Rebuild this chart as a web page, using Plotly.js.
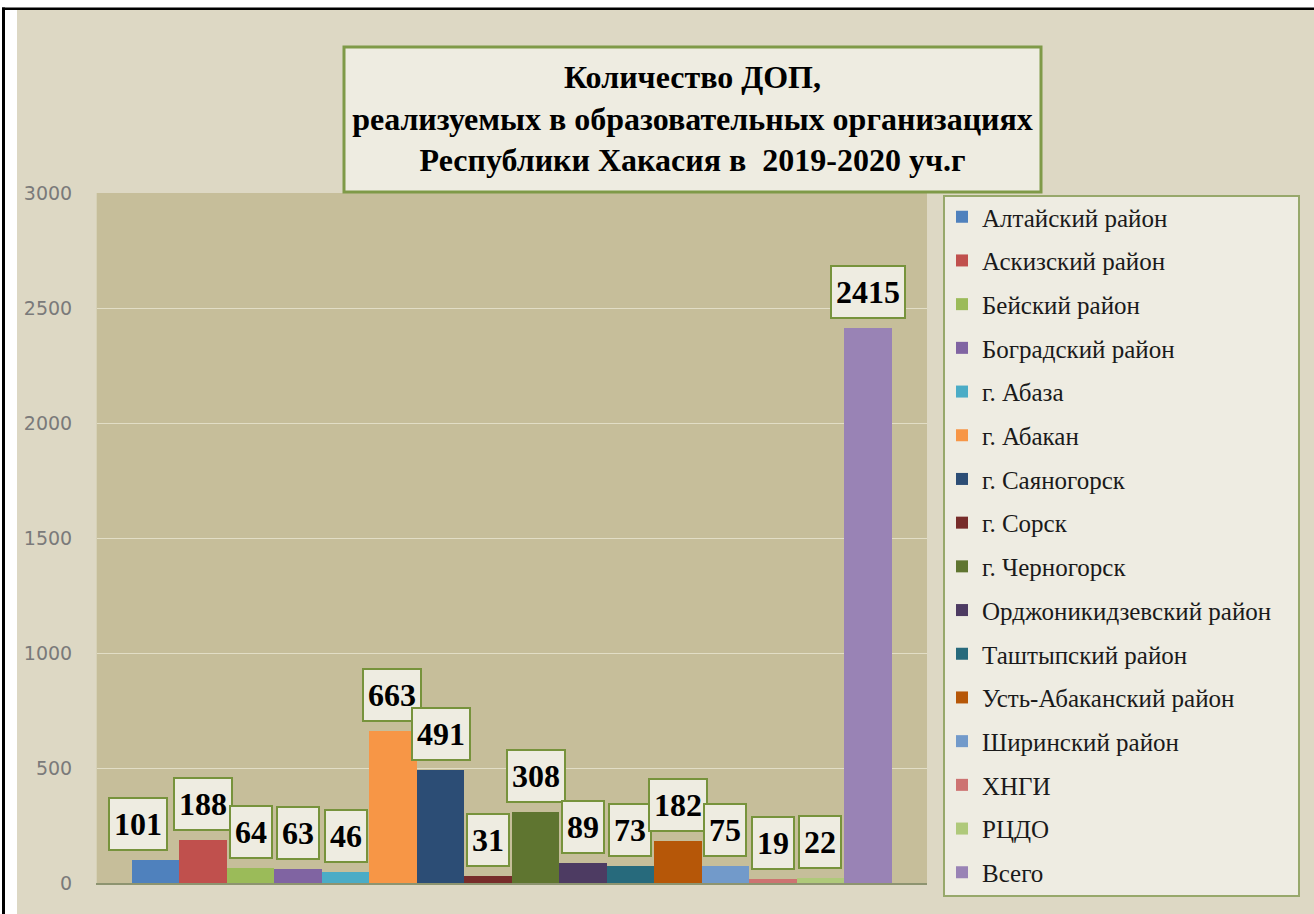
<!DOCTYPE html>
<html>
<head>
<meta charset="utf-8">
<script src="https://cdn.plot.ly/plotly-3.0.1.min.js"></script>
<style>html,body{margin:0;padding:0;background:#fff;}#chart{width:1314px;height:914px;}</style>
</head>
<body>
<div id="chart"></div>
<script>
// ---- data ----
var categories = ["Алтайский район","Аскизский район","Бейский район","Боградский район","г. Абаза","г. Абакан","г. Саяногорск","г. Сорск","г. Черногорск","Орджоникидзевский район","Таштыпский район","Усть-Абаканский район","Ширинский район","ХНГИ","РЦДО","Всего"];
var values = [101,188,64,63,46,663,491,31,308,89,73,182,75,19,22,2415];
var colors = ["#4F81BD","#C0504D","#9BBB59","#8064A2","#4BACC6","#F79646","#2C4D75","#772C2A","#5F7530","#4D3B62","#276A7C","#B65708","#729ACA","#CD7371","#AFC97A","#9983B5"];
var yTicks = [0,500,1000,1500,2000,2500,3000];
var titleText = "Количество ДОП,<br>реализуемых в образовательных организациях<br>Республики Хакасия в  2019-2020 уч.г";
// label nudges (pixels, styling only)
var labelDx = [-18,0,0,0,0,-1,0,0,0,0,0,0,0,0,0,0];

// ---- layout geometry ----
var W = 1314, H = 914;
var L = 97, R = 927, T = 193, B = 883;
function px(x){ return (x - L) / (R - L); }
function py(y){ return (B - y) / (B - T); }

var traces = categories.map(function(c, i){
  return {
    type: 'bar', name: c, x: [i], y: [values[i]], width: 1,
    legendgroup: 'g' + i,
    marker: {color: colors[i], line: {width: 0}},
    hoverinfo: 'name+y'
  };
});

var annotations = values.map(function(v, i){
  return {
    x: i, y: v, xref: 'x', yref: 'y', text: String(v), showarrow: false,
    xanchor: 'center', yanchor: 'bottom', yshift: 9, xshift: labelDx[i],
    height: 42, valign: 'middle',
    font: {family: 'Liberation Serif, Times New Roman, serif', size: 32, color: '#000', weight: 'bold'},
    bgcolor: '#EEECE1', bordercolor: '#77933C', borderwidth: 2, borderpad: 4
  };
});

var shapes = [
  // white margins
  {type:'rect', xref:'paper', yref:'paper', x0:px(0), x1:px(17), y0:py(H), y1:py(0), fillcolor:'#fff', line:{width:0}, layer:'below'},
  {type:'rect', xref:'paper', yref:'paper', x0:px(0), x1:px(W), y0:py(10), y1:py(0), fillcolor:'#fff', line:{width:0}, layer:'below'},
  // black frame lines
  {type:'rect', xref:'paper', yref:'paper', x0:px(2), x1:px(W), y0:py(10), y1:py(7.5), fillcolor:'#000', line:{width:0}, layer:'below'},
  {type:'rect', xref:'paper', yref:'paper', x0:px(2), x1:px(5), y0:py(H), y1:py(7.5), fillcolor:'#000', line:{width:0}, layer:'below'},
  // title box
  {type:'rect', xref:'paper', yref:'paper', x0:px(344), x1:px(1041), y0:py(192), y1:py(47), fillcolor:'#EEECE1', line:{color:'#7F9A48', width:3}, layer:'above'},
  // legend box
  {type:'rect', xref:'paper', yref:'paper', x0:px(944), x1:px(1299), y0:py(896), y1:py(196), fillcolor:'#EEECE2', line:{color:'#97A86B', width:2}, layer:'above'}
];

var layout = {
  width: W, height: H,
  margin: {l: L, r: W - R, t: T, b: H - B, pad: 0},
  paper_bgcolor: '#DDD8C4',
  plot_bgcolor: '#C6BE9A',
  barmode: 'overlay',
  bargap: 0,
  showlegend: true,
  title: {
    text: titleText,
    font: {family: 'Liberation Serif, Times New Roman, serif', size: 32, color: '#000', weight: 'bold'},
    xref: 'paper', x: px(692.5), xanchor: 'center',
    yref: 'container', y: 1 - 88 / H, yanchor: 'middle'
  },
  xaxis: {
    range: [-1.237, 16.247], showticklabels: false, ticks: '', showgrid: false, zeroline: false,
    showline: true, linecolor: '#8D9470', linewidth: 2, fixedrange: true
  },
  yaxis: {
    range: [0, 3000], tickvals: yTicks, ticktext: yTicks.map(String), ticks: '',
    showgrid: true, gridcolor: '#E2DEC6', gridwidth: 1, zeroline: false,
    showline: true, linecolor: '#D6D1B6', linewidth: 1,
    tickfont: {family: 'DejaVu Sans, Verdana, sans-serif', size: 19, color: '#7a7a7a'},
    ticklabelstandoff: 20, fixedrange: true
  },
  legend: {
    x: px(942), xanchor: 'left', y: py(194), yanchor: 'top',
    bgcolor: 'rgba(0,0,0,0)', borderwidth: 0, maxheight: 900,
    font: {family: 'Liberation Serif, Times New Roman, serif', size: 25, color: '#1a1a1a'},
    tracegroupgap: 8.2, itemwidth: 30
  },
  annotations: annotations,
  shapes: shapes
};

Plotly.newPlot('chart', traces, layout, {displayModeBar: false, staticPlot: true});
</script>
</body>
</html>
